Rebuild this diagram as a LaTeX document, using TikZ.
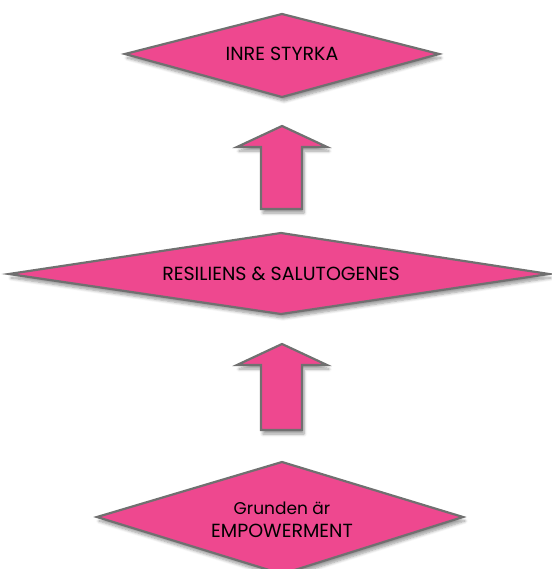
\documentclass[tikz,border=0pt]{standalone}
\usepackage{fontspec}
\setmainfont{Poppins}
\usetikzlibrary{shadows.blur}
\definecolor{pinkfill}{RGB}{238,72,143}
\definecolor{edgegrey}{RGB}{112,112,112}
\tikzset{
  pinkshape/.style={fill=pinkfill, draw=edgegrey, line width=2.2pt, line join=miter,
    blur shadow={shadow xshift=2pt, shadow yshift=-4pt, shadow opacity=40, shadow blur steps=6, shadow blur radius=3pt}},
  lbl/.style={inner sep=0pt, text=black, font=\fontsize{19}{22}\selectfont},
  small/.style={inner sep=0pt, text=black, font=\fontsize{17}{20}\selectfont}
}
\begin{document}
\begin{tikzpicture}[x=1pt,y=-1pt]
\useasboundingbox (0,0) rectangle (551,569);
% diamonds
\draw[pinkshape] (125,54) -- (282,14) -- (439,54) -- (282,97) -- cycle;
\draw[pinkshape] (9,274) -- (281,233) -- (549,274) -- (281,314) -- cycle;
\draw[pinkshape] (97,517) -- (282,462) -- (463,517) -- (282,574) -- cycle;
% arrows
\draw[pinkshape] (282,126) -- (327,147) -- (302,147) -- (302,209) -- (261,209) -- (261,147) -- (237,147) -- cycle;
\draw[pinkshape] (282,344) -- (327,365) -- (302,365) -- (302,430) -- (261,430) -- (261,365) -- (237,365) -- cycle;
% labels
\node[lbl] (top) at (282,54) {INRE STYRKA};
\node[lbl] (mid) at (281,274) {RESILIENS \& SALUTOGENES};
\node[small] (grund) at (282,508) {Grunden är};
\node[lbl] (emp) at (282,531) {EMPOWERMENT};
\end{tikzpicture}
\end{document}
